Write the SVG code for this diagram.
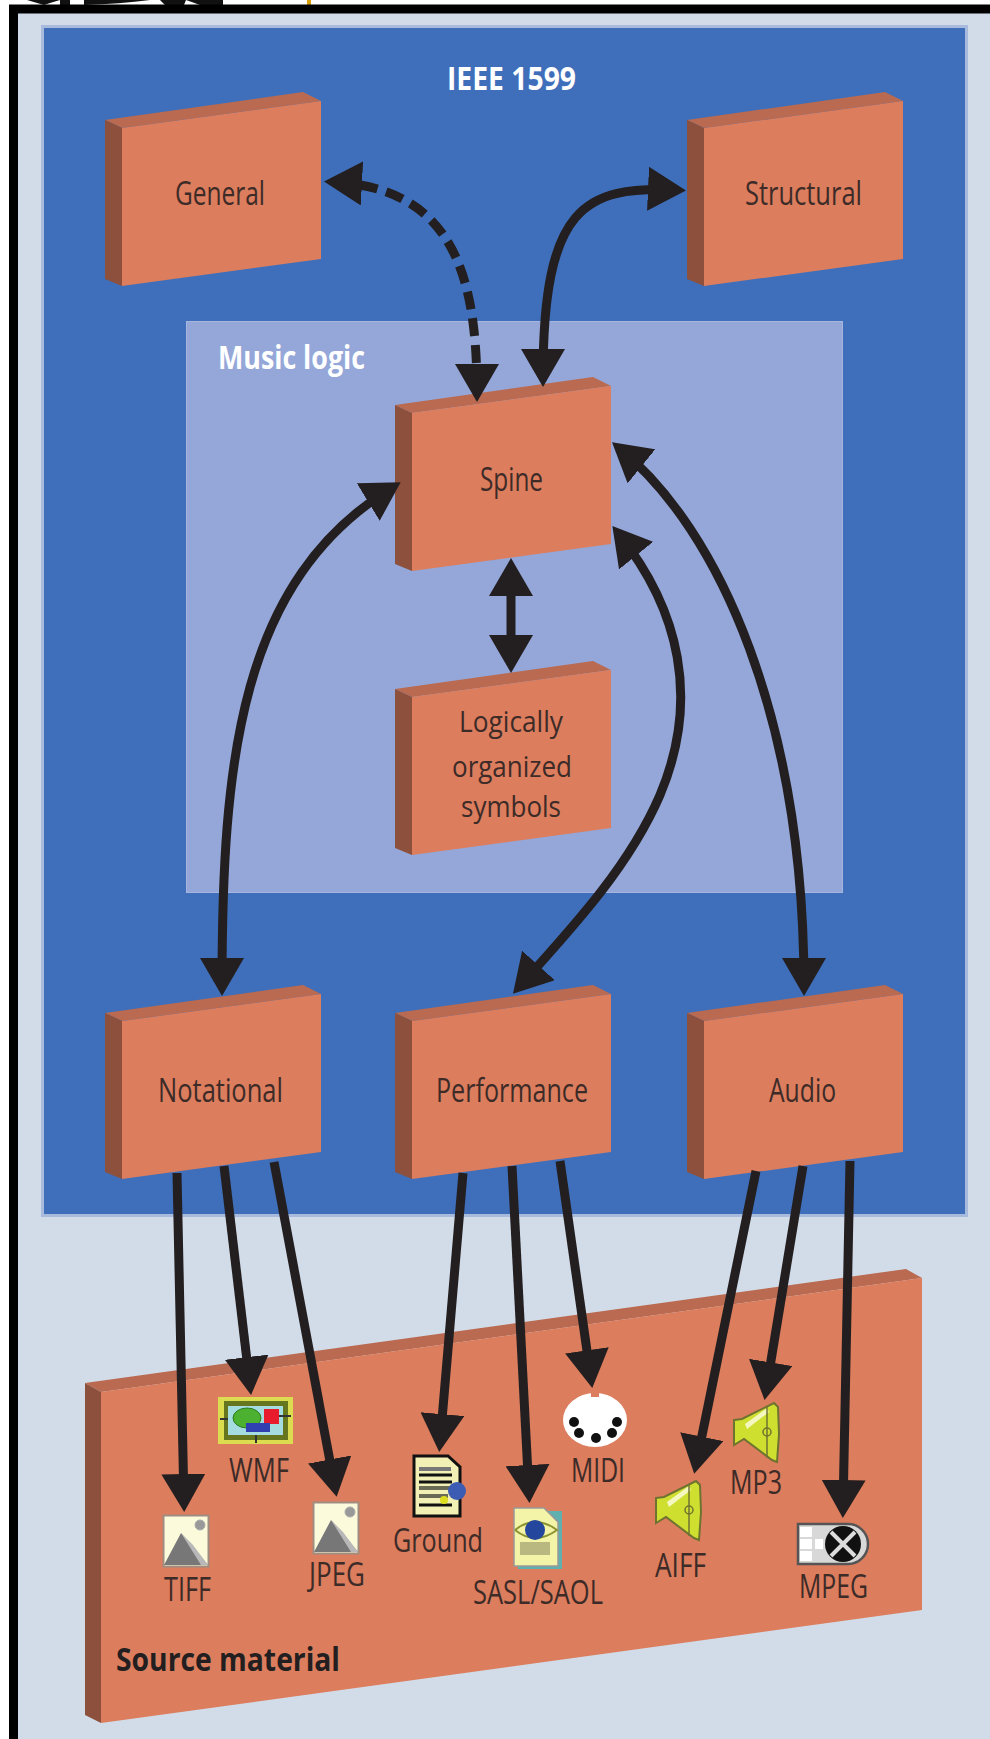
<svg xmlns="http://www.w3.org/2000/svg" xmlns:xlink="http://www.w3.org/1999/xlink" width="990" height="1739" viewBox="0 0 990 1739">
<style>
text{font-family:"Open Sans","Liberation Sans",sans-serif;font-size:33px}
.lab{fill:#3d2b28}
.ttl{fill:#fff;font-weight:700}
.front{fill:#dc7d5d}
.side{fill:#8c503c}
.top{fill:#b96a50}
.con{fill:none;stroke:#231f20;stroke-width:9;marker-start:url(#ah);marker-end:url(#ah)}
.one{fill:none;stroke:#231f20;stroke-width:9;marker-end:url(#ah)}
</style>
<defs>
<marker id="ah" markerUnits="userSpaceOnUse" viewBox="0 0 38 44" markerWidth="38" markerHeight="44" refX="29" refY="22" orient="auto-start-reverse"><path d="M0,0L38,22L0,44z" fill="#231f20"/></marker>
<g id="box">
<polygon class="top" points="105,120 303,92 321,101 122,128"/>
<polygon class="side" points="105,120 122,128 122,286 105,279"/>
<polygon class="front" points="122,128 321,101 321,259 122,286"/>
</g>
<g id="picture">
<rect x="0.5" y="0.5" width="45" height="51" fill="#fbfbdc" stroke="#a08c80" stroke-width="2"/>
<polygon points="18,18 1,50 45,50" fill="#777"/>
<polygon points="18,18 30,30 45,50 38,50" fill="#b8b8b8"/>
<circle cx="37" cy="10" r="5" fill="#999" stroke="#aaa"/>
</g>
<g id="speaker">
<polygon points="1,18 9,17 41,1 45,5 46,32 44,60 39,58 11,37 1,43" fill="#cfdf30" stroke="#6f7330" stroke-width="2"/>
<polygon points="12,22 34,6 36,10 14,27" fill="#f4f8c0"/>
<line x1="34" y1="5" x2="34" y2="56" stroke="#6f7330" stroke-width="1.5"/>
<circle cx="34" cy="30" r="4" fill="none" stroke="#6f7330" stroke-width="1.5"/>
</g>
</defs>

<path id="page-fragment" d="M27,0H60L50,3L44,5ZM60,0H70V5H60ZM84,0H150Q120,4 84,5ZM160,0H186L184,5H165ZM186,0H223V5H200Q192,2 186,0Z" fill="#111"/>
<rect x="307" y="0" width="4" height="5" fill="#d9a00c"/>
<rect x="13.500" y="9" width="985" height="1740" fill="#d2dce8" stroke="#000" stroke-width="9"/>

<g id="ieee1599">
<rect x="42.500" y="26.500" width="924" height="1189" fill="#3f6fba" stroke="#a9bbdc" stroke-width="3"/>
<text class="ttl" x="447" y="90" textLength="129" lengthAdjust="spacingAndGlyphs">IEEE 1599</text>
</g>
<g id="music-logic">
<rect x="186.500" y="321.500" width="656" height="571" fill="#94a7d8" stroke="#a5b5de"/>
<text class="ttl" x="218" y="369" textLength="147" lengthAdjust="spacingAndGlyphs">Music logic</text>
</g>

<g id="source-material">
<polygon class="top" points="85,1383 906,1269 922,1278 101,1392"/>
<polygon class="side" points="85,1383 101,1392 101,1723 85,1715"/>
<polygon class="front" points="101,1392 922,1278 922,1610 101,1723"/>
<text x="116" y="1671" textLength="224" lengthAdjust="spacingAndGlyphs" font-weight="700" fill="#231f20">Source material</text>
</g>

<g id="icon-wmf">
<rect x="218" y="1397" width="75" height="47" fill="#dcdc50"/>
<rect x="224" y="1401" width="64" height="39" fill="#66761f"/>
<rect x="228" y="1406" width="55" height="29" fill="#a4dce0"/>
<ellipse cx="247" cy="1418" rx="14" ry="10" fill="#4cb030" stroke="#2c7a20"/>
<rect x="264" y="1409" width="15" height="15" fill="#e81c2c"/>
<rect x="246" y="1423" width="24" height="9" fill="#3040b0"/>
<path d="M220,1419H228M279,1416H291M256,1435V1443" stroke="#333" stroke-width="2"/>
<text class="lab" x="229" y="1482" textLength="60" lengthAdjust="spacingAndGlyphs">WMF</text>
</g>
<g id="icon-tiff">
<use href="#picture" xlink:href="#picture" x="163" y="1515"/>
<text class="lab" x="164" y="1601" textLength="47" lengthAdjust="spacingAndGlyphs">TIFF</text>
</g>
<g id="icon-jpeg">
<use href="#picture" xlink:href="#picture" x="313" y="1502"/>
<text class="lab" x="309" y="1586" textLength="56" lengthAdjust="spacingAndGlyphs">JPEG</text>
</g>
<g id="icon-ground">
<polygon points="414,1456 448,1456 460,1467 460,1516 414,1516" fill="#f2f0b4" stroke="#111" stroke-width="3"/>
<path d="M419,1469H451" stroke="#777" stroke-width="4"/>
<path d="M419,1475H452M419,1482H452" stroke="#111" stroke-width="3"/>
<path d="M419,1488H450M419,1496H448" stroke="#6b6b55" stroke-width="4"/>
<path d="M419,1505H452" stroke="#111" stroke-width="3"/>
<circle cx="457" cy="1491" r="9" fill="#3c5cb4"/>
<circle cx="444" cy="1500" r="4" fill="#dcdc20"/>
<text class="lab" x="393" y="1552" textLength="90" lengthAdjust="spacingAndGlyphs">Ground</text>
</g>
<g id="icon-sasl">
<polygon points="518,1511 562,1511 562,1569 518,1569" fill="#60b0b0"/>
<polygon points="514,1508 544,1508 558,1522 558,1566 514,1566" fill="#f4f4a8" stroke="#999" stroke-width="1.500"/>
<path d="M515,1530Q535,1514 557,1530Q535,1546 515,1530" fill="none" stroke="#8c9430" stroke-width="2"/>
<circle cx="535" cy="1530" r="10" fill="#24469c"/>
<rect x="520" y="1542" width="30" height="13" fill="#b8b880"/>
<text class="lab" x="473" y="1604" textLength="130" lengthAdjust="spacingAndGlyphs">SASL/SAOL</text>
</g>
<g id="icon-midi">
<ellipse cx="595" cy="1420" rx="32" ry="27" fill="#fff"/>
<g fill="#111"><circle cx="574" cy="1422" r="5"/><circle cx="617" cy="1422" r="5"/><circle cx="579" cy="1433" r="5"/><circle cx="612" cy="1433" r="5"/><circle cx="596" cy="1438" r="5"/></g>
<rect x="591" y="1392" width="8" height="5" fill="#dc7d5d"/>
<text class="lab" x="571" y="1482" textLength="54" lengthAdjust="spacingAndGlyphs">MIDI</text>
</g>
<g id="icon-aiff">
<use href="#speaker" xlink:href="#speaker" x="655" y="1480"/>
<text class="lab" x="655" y="1577" textLength="51" lengthAdjust="spacingAndGlyphs">AIFF</text>
</g>
<g id="icon-mp3">
<use href="#speaker" xlink:href="#speaker" x="733" y="1402"/>
<text class="lab" x="730" y="1494" textLength="52" lengthAdjust="spacingAndGlyphs">MP3</text>
</g>
<g id="icon-mpeg">
<path d="M798,1524H848A20,20 0 0 1 848,1564H798Z" fill="#d8d8d8" stroke="#555" stroke-width="2.500"/>
<g fill="#fff"><rect x="800" y="1527" width="12" height="10"/><rect x="800" y="1539" width="12" height="10"/><rect x="800" y="1551" width="12" height="10"/><rect x="815" y="1539" width="8" height="10"/></g>
<circle cx="843" cy="1544" r="18" fill="#111"/>
<path d="M831,1532L855,1556M855,1532L831,1556" stroke="#ddd" stroke-width="4"/>
<text class="lab" x="799" y="1598" textLength="69" lengthAdjust="spacingAndGlyphs">MPEG</text>
</g>

<g id="general"><use href="#box" xlink:href="#box"/><text class="lab" x="175" y="205" textLength="90" lengthAdjust="spacingAndGlyphs">General</text></g>
<g id="structural"><use href="#box" xlink:href="#box" x="582"/><text class="lab" x="745" y="205" textLength="117" lengthAdjust="spacingAndGlyphs">Structural</text></g>
<g id="spine"><use href="#box" xlink:href="#box" x="290" y="285"/><text class="lab" x="480" y="491" textLength="63" lengthAdjust="spacingAndGlyphs">Spine</text></g>
<g id="logical"><use href="#box" xlink:href="#box" x="290" y="569"/>
<text class="lab" style="font-size:29px" x="459" y="732" textLength="104" lengthAdjust="spacingAndGlyphs">Logically</text>
<text class="lab" style="font-size:29px" x="452" y="777" textLength="120" lengthAdjust="spacingAndGlyphs">organized</text>
<text class="lab" style="font-size:29px" x="461" y="817" textLength="100" lengthAdjust="spacingAndGlyphs">symbols</text></g>
<g id="notational"><use href="#box" xlink:href="#box" y="893"/><text class="lab" x="158" y="1102" textLength="125" lengthAdjust="spacingAndGlyphs">Notational</text></g>
<g id="performance"><use href="#box" xlink:href="#box" x="290" y="893"/><text class="lab" x="436" y="1102" textLength="152" lengthAdjust="spacingAndGlyphs">Performance</text></g>
<g id="audio"><use href="#box" xlink:href="#box" x="582" y="893"/><text class="lab" x="769" y="1102" textLength="67" lengthAdjust="spacingAndGlyphs">Audio</text></g>

<g id="connectors">
<path class="con" stroke-dasharray="18 9" d="M333,182C450,188 477,270 477,393"/>
<path class="con" d="M677,190C585,186 543,205 543,378"/>
<path class="con" d="M511,567L511,664"/>
<path class="con" d="M222,987C222,760 240,580 393,487"/>
<path class="con" d="M619,448C720,530 804,720 804,987"/>
<path class="con" d="M618,533C680,610 700,700 660,795C630,865 575,925 519,987"/>
<path class="one" d="M177,1173L184,1503"/>
<path class="one" d="M224,1166L250,1386"/>
<path class="one" d="M274,1162L335,1488"/>
<path class="one" d="M463,1173L440,1443"/>
<path class="one" d="M512,1166L529,1494"/>
<path class="one" d="M560,1161L591,1379"/>
<path class="one" d="M756,1171L696,1465"/>
<path class="one" d="M803,1166L766,1391"/>
<path class="one" d="M850,1161L843,1509"/>
</g>
</svg>
